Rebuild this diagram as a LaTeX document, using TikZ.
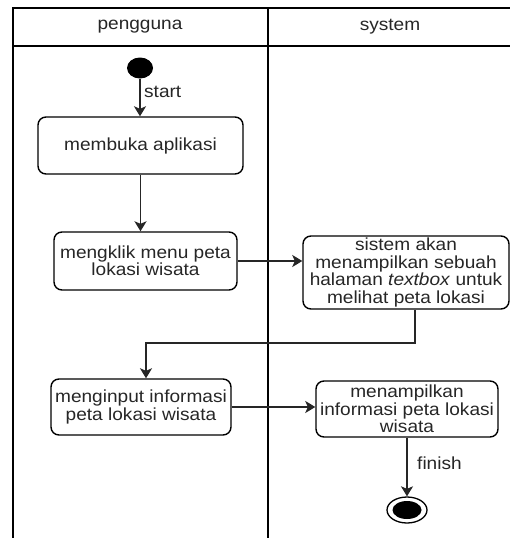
\documentclass[tikz,border=0pt]{standalone}
\usepackage{fontspec}
\setmainfont{Liberation Sans}[FakeStretch=1.09]
\usetikzlibrary{arrows.meta,shapes.geometric}

\begin{document}
\begin{tikzpicture}[x=1pt,y=-1pt,
  lane/.style={line width=1.7pt},
  txt/.style={font=\fontsize{17.5}{17.4}\selectfont, text=black!85},
  act/.style={txt, draw, line width=1.4pt, rounded corners=8pt, align=center, inner sep=0pt},
  flow/.style={line width=1.7pt, draw=black!85, -{Stealth[width=12pt,length=10pt,inset=2.5pt]}},
  lbl/.style={txt, inner sep=0pt}]

\useasboundingbox (0,0) rectangle (510,538);

% swimlane frame
\draw[lane] (13,538) -- (13,8) -- (510,8);
\draw[lane] (13,46) -- (510,46);
\draw[lane] (268,8) -- (268,538);
\node[lbl] (hUser) at (140,27) {pengguna};
\node[lbl] (hSys) at (390,27) {system};

% initial and final states
\node[ellipse, fill=black, inner sep=0pt, minimum width=26pt, minimum height=21pt] (start) at (140,68) {};
\node[ellipse, draw, line width=1.3pt, inner sep=0pt, minimum width=40pt, minimum height=26pt] (end) at (407,510) {};
\fill (end.center) ellipse [x radius=14.5, y radius=9];

% activities
\node[act, minimum width=205pt, minimum height=57pt] (b1) at (140.5,145.5) {membuka aplikasi};
\node[act, minimum width=183pt, minimum height=58pt] (b2) at (145.5,261) {mengklik menu peta\\lokasi wisata};
\node[act, minimum width=206pt, minimum height=73pt] (b3) at (406,272.5) {sistem akan\\menampilkan sebuah\\halaman \textit{textbox} untuk\\melihat peta lokasi};
\node[act, minimum width=180pt, minimum height=56pt] (b4) at (141,407) {menginput informasi\\peta lokasi wisata};
\node[act, minimum width=182pt, minimum height=56pt] (b5) at (407,409) {menampilkan\\informasi peta lokasi\\wisata};

% transitions
\draw[flow] (start) -- (start |- b1.north);
\node[lbl, anchor=west] (lStart) at (144,92) {start};
\draw[flow] (b1.south) -- (b1.south |- b2.north);
\draw[flow] (b2.east) -- (b2.east -| b3.west);
\coordinate (bend) at (146,343);
\draw[flow] ([xshift=9pt]b3.south) |- (bend) -- (bend |- b4.north);
\draw[flow] (b4.east) -- (b4.east -| b5.west);
\draw[flow] (b5.south) -- (end.north);
\node[lbl, anchor=west] (lFinish) at (417,463) {finish};
\end{tikzpicture}
\end{document}
